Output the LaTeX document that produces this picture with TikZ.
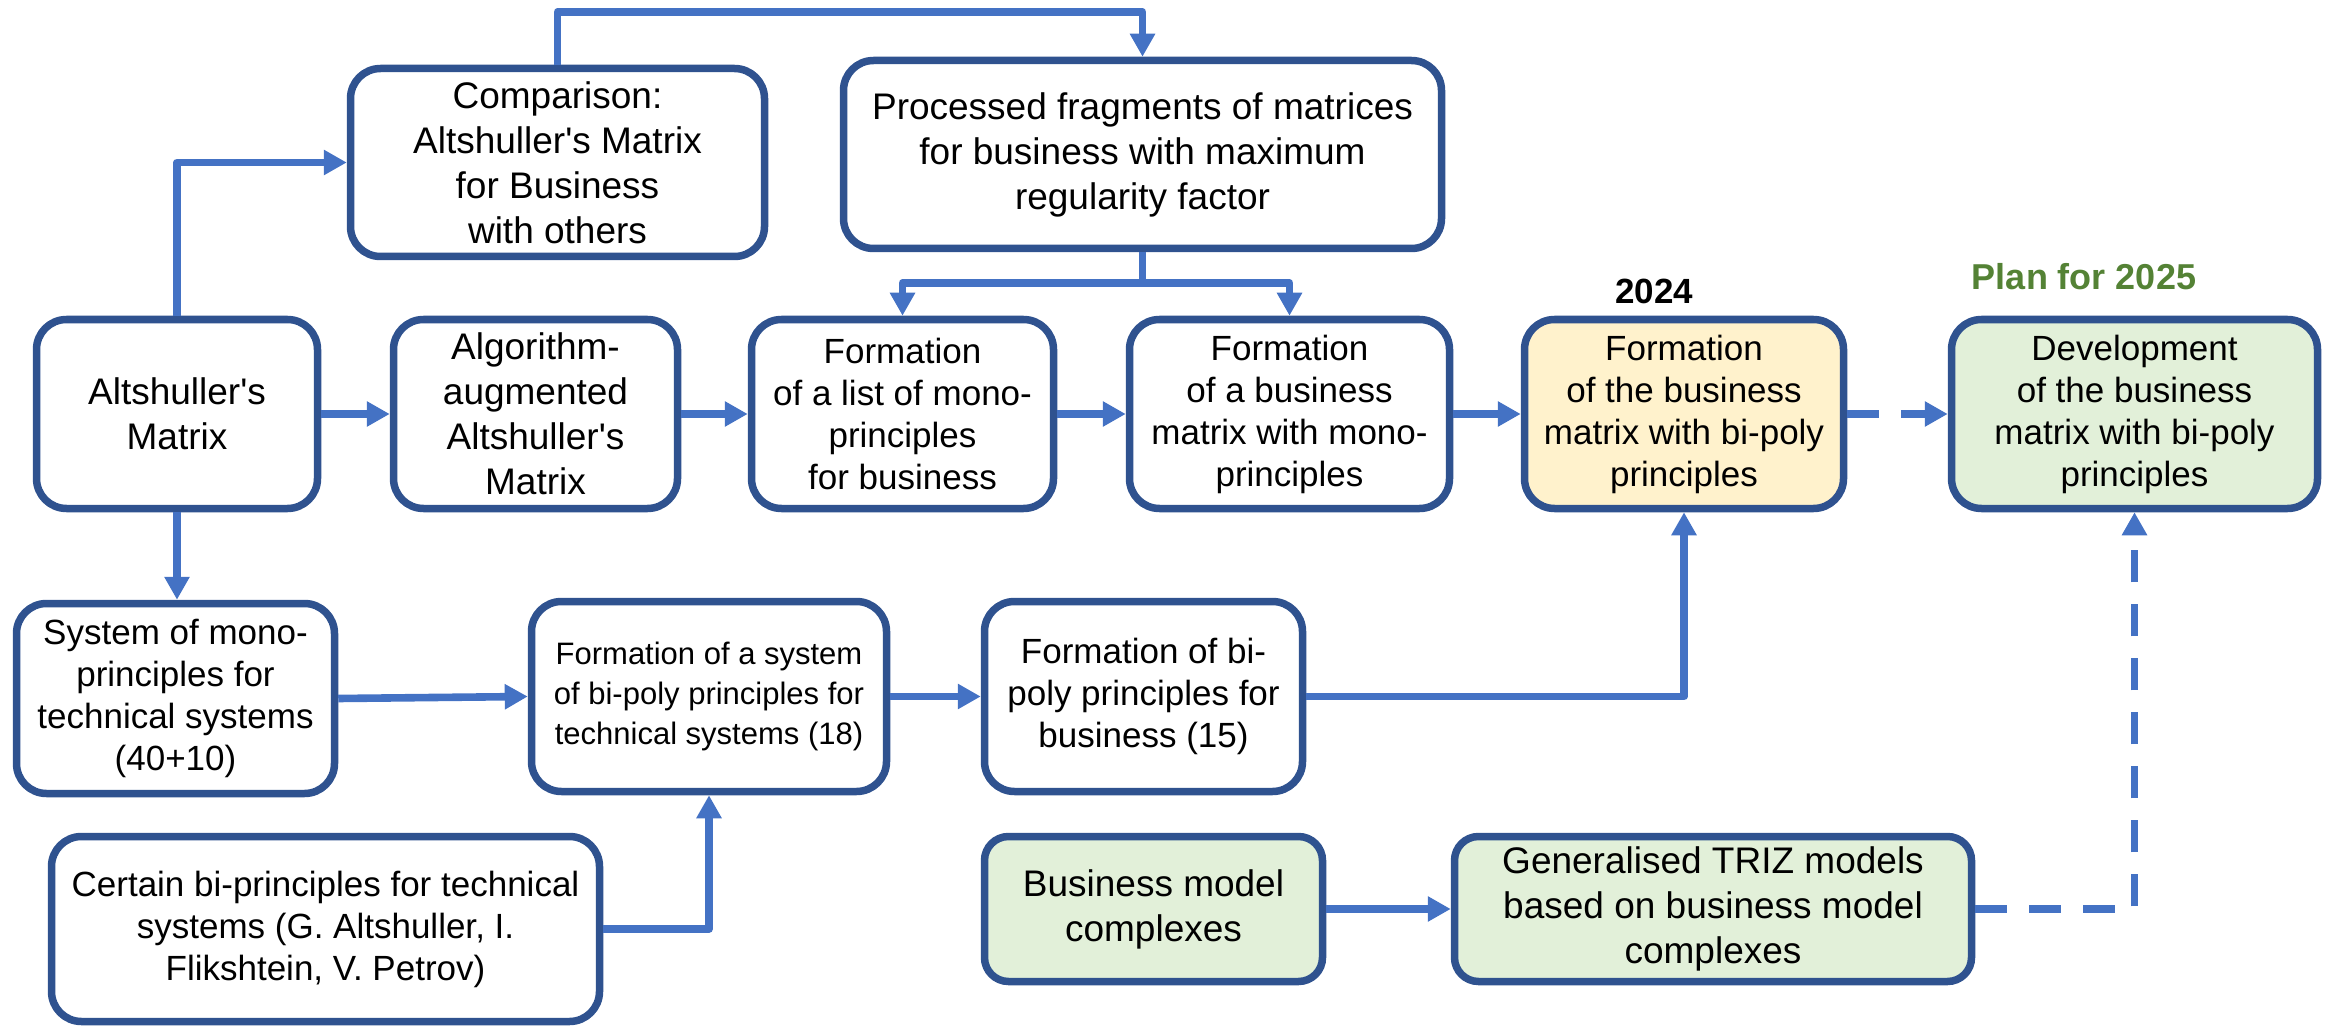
\documentclass[tikz,border=0pt]{standalone}
\usepackage{fontspec}
\setmainfont{Liberation Sans}
\usetikzlibrary{arrows.meta}
\definecolor{bordc}{HTML}{2F528F}
\definecolor{connc}{HTML}{4472C4}
\definecolor{yel}{HTML}{FFF2CC}
\definecolor{grn}{HTML}{E2F0D9}
\definecolor{plang}{HTML}{548235}
\begin{document}
\begin{tikzpicture}[x=0.5pt,y=-0.5pt,
  box/.style={draw=bordc, line width=3.75pt, rounded corners=15pt, fill=white, align=center, inner sep=2pt, text=black},
  big/.style={font=\fontsize{18.5pt}{22.5pt}\selectfont},
  med/.style={font=\fontsize{17.5pt}{21pt}\selectfont},
  sml/.style={font=\fontsize{15.5pt}{20pt}\selectfont},
  conn/.style={draw=connc, line width=3.8pt, line join=round, -{Triangle[length=11.5pt,width=12pt]}},
  plainconn/.style={draw=connc, line width=3.8pt, line join=round},
  dashconn/.style={conn, dash pattern=on 16pt off 11pt}]
\useasboundingbox (0,0) rectangle (2329,1027);

% top row
\node[box,big,minimum width=207pt,minimum height=94pt] (comp) at (557.5,162.5)
  {Comparison:\\Altshuller\textquotesingle s Matrix\\for Business\\with others};
\node[box,big,minimum width=299pt,minimum height=94pt] (proc) at (1142.5,154.5)
  {Processed fragments of matrices\\for business with maximum\\regularity factor};

% second row
\node[box,big,minimum width=140.5pt,minimum height=94.5pt] (alt) at (177,414)
  {Altshuller\textquotesingle s\\Matrix};
\node[box,big,minimum width=142pt,minimum height=94.5pt] (algo) at (535.5,414)
  {Algorithm-\\augmented\\Altshuller\textquotesingle s\\Matrix};
\node[box,med,minimum width=151pt,minimum height=94.5pt] (list) at (902.5,414)
  {Formation\\of a list of mono-\\principles\\for business};
\node[box,med,minimum width=160pt,minimum height=94.5pt] (mono) at (1289.5,414)
  {Formation\\of a business\\matrix with mono-\\principles};
\node[box,med,fill=yel,minimum width=159.5pt,minimum height=94.5pt] (yellow) at (1684,414)
  {Formation\\of the business\\matrix with bi-poly\\principles};
\node[box,med,fill=grn,minimum width=183pt,minimum height=94.5pt] (green) at (2134.5,414)
  {Development\\of the business\\matrix with bi-poly\\principles};

% labels
\node[font=\fontsize{17.5pt}{21pt}\selectfont\bfseries] (y2024) at (1654,291) {2024};
\node[font=\fontsize{18pt}{21pt}\selectfont\bfseries, text=plang] (plan) at (2084,277) {Plan for 2025};

% third row
\node[box,med,minimum width=159pt,minimum height=95pt] (sys) at (175.5,698.5)
  {System of mono-\\principles for\\technical systems\\(40+10)};
\node[box,sml,minimum width=177.5pt,minimum height=95pt] (fsys) at (709,696.5)
  {Formation of a system\\of bi-poly principles for\\technical systems (18)};
\node[box,med,minimum width=159pt,minimum height=95pt] (fbiz) at (1143.5,696.5)
  {Formation of bi-\\poly principles for\\business (15)};

% bottom row
\node[box,med,minimum width=274pt,minimum height=92.5pt] (cert) at (325.5,929)
  {Certain bi-principles for technical\\systems (G. Altshuller, I.\\Flikshtein, V. Petrov)};
\node[box,big,fill=grn,rounded corners=12pt,minimum width=169pt,minimum height=72.5pt] (bmc) at (1153.5,909)
  {Business model\\complexes};
\node[box,big,fill=grn,rounded corners=12pt,minimum width=258.5pt,minimum height=72.5pt] (gen) at (1713,909)
  {Generalised TRIZ models\\based on business model\\complexes};

% helper coordinates
\coordinate (topy) at (0,12);
\coordinate (split) at (0,283);

% connectors
\draw[conn] (alt.north) |- (comp.west);
\draw[conn] (comp.north) -- (comp.north |- topy) -| (proc.north);
\draw[plainconn] (proc.south) -- (proc.south |- split);
\draw[conn] (proc.south |- split) -| (list.north);
\draw[conn] (proc.south |- split) -| (mono.north);
\draw[conn] (alt.east) -- (algo.west);
\draw[conn] (algo.east) -- (list.west);
\draw[conn] (list.east) -- (mono.west);
\draw[conn] (mono.east) -- (yellow.west);
\draw[dashconn] (yellow.east) -- (green.west);
\draw[conn] (alt.south) -- (alt.south |- sys.north);
\draw[conn] (sys.east) -- (fsys.west);
\draw[conn] (fsys.east) -- (fbiz.west);
\draw[conn] (cert.east) -| (fsys.south);
\draw[conn] (fbiz.east) -| (yellow.south);
\draw[conn] (bmc.east) -- (gen.west);
\draw[dashconn] (gen.east) -| (green.south);
\end{tikzpicture}
\end{document}
